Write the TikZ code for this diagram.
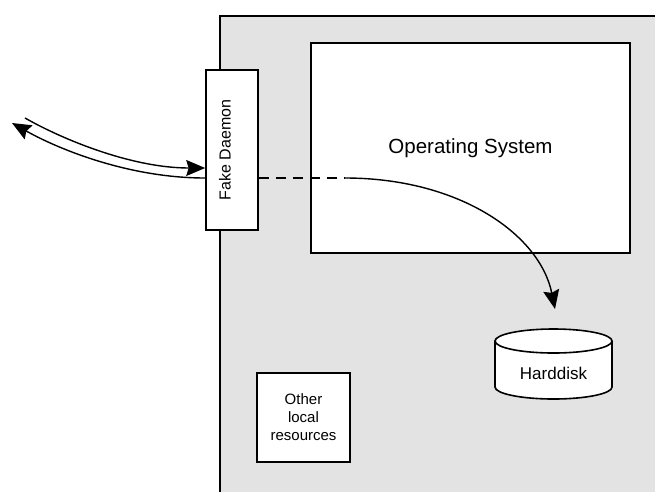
\documentclass[tikz,border=0pt]{standalone}
\usepackage{fontspec}
\setmainfont{Liberation Sans}
\usetikzlibrary{arrows.meta}

\definecolor{panelgrey}{HTML}{E3E3E3}

\tikzset{
  edge/.style={line width=1.6pt, draw=black},
  whitebox/.style={edge, fill=white, inner sep=0pt},
  flow/.style={line width=1.4pt, -{Stealth[length=19pt, width=16pt, inset=2.5pt]}},
}

\begin{document}
\begin{tikzpicture}[x=1pt, y=-1pt]
\useasboundingbox (0,0) rectangle (655,491);
\clip (0,0) rectangle (655,491);

% host machine: grey panel running off the right and bottom
\fill[panelgrey] (220,16) rectangle (670,500);
\draw[edge] (220,500) -- (220,16) -- (670,16);

% boxes inside the host
\node[whitebox, minimum width=319pt, minimum height=210pt] (os) at (470.5,148) {};
\node[font=\fontsize{20.5}{24}\selectfont] (oslabel) at (os.center) {Operating System};

\node[whitebox, minimum width=93pt, minimum height=89pt] (other) at (303.5,417.5) {};
\node[font=\fontsize{15}{18}\selectfont, align=center] (otherlabel) at (other.center) {Other\\local\\resources};

% fake daemon sitting in the host's boundary
\node[whitebox, minimum width=52pt, minimum height=160pt] (fd) at (232,150) {};
\node[rotate=90, font=\fontsize{16}{18}\selectfont] (fdlabel) at ([xshift=-7pt]fd.center) {Fake Daemon};

% hard disk cylinder
\begin{scope}[edge]
  \draw[fill=white] (553.5,387) ellipse [x radius=58.5, y radius=12];
  \fill[white] (495,341) rectangle (612,387);
  \draw (495,341) -- (495,387);
  \draw (612,341) -- (612,387);
  \draw[fill=white] (553.5,341) ellipse [x radius=58.5, y radius=12];
\end{scope}
\node[font=\fontsize{17}{20}\selectfont] (hd) at (553.5,373) {Harddisk};

% connectors
\coordinate (farin) at (25,118);
\coordinate (farout) at (12,123);
\coordinate (bend) at (345,178);
\coordinate (hdin) at (555,309);

\draw[flow] (farin) .. controls (60,138) and (130,168) .. ([yshift=-18pt]fd.west);
\draw[flow] ([yshift=-28pt]fd.west) .. controls (130,178) and (60,150) .. (farout);
\draw[line width=1.4pt, dash pattern=on 10pt off 7pt] ([yshift=-28pt]fd.east) -- (bend);
\draw[flow] (bend) .. controls (460,178) and (540,235) .. (hdin);
\end{tikzpicture}
\end{document}
